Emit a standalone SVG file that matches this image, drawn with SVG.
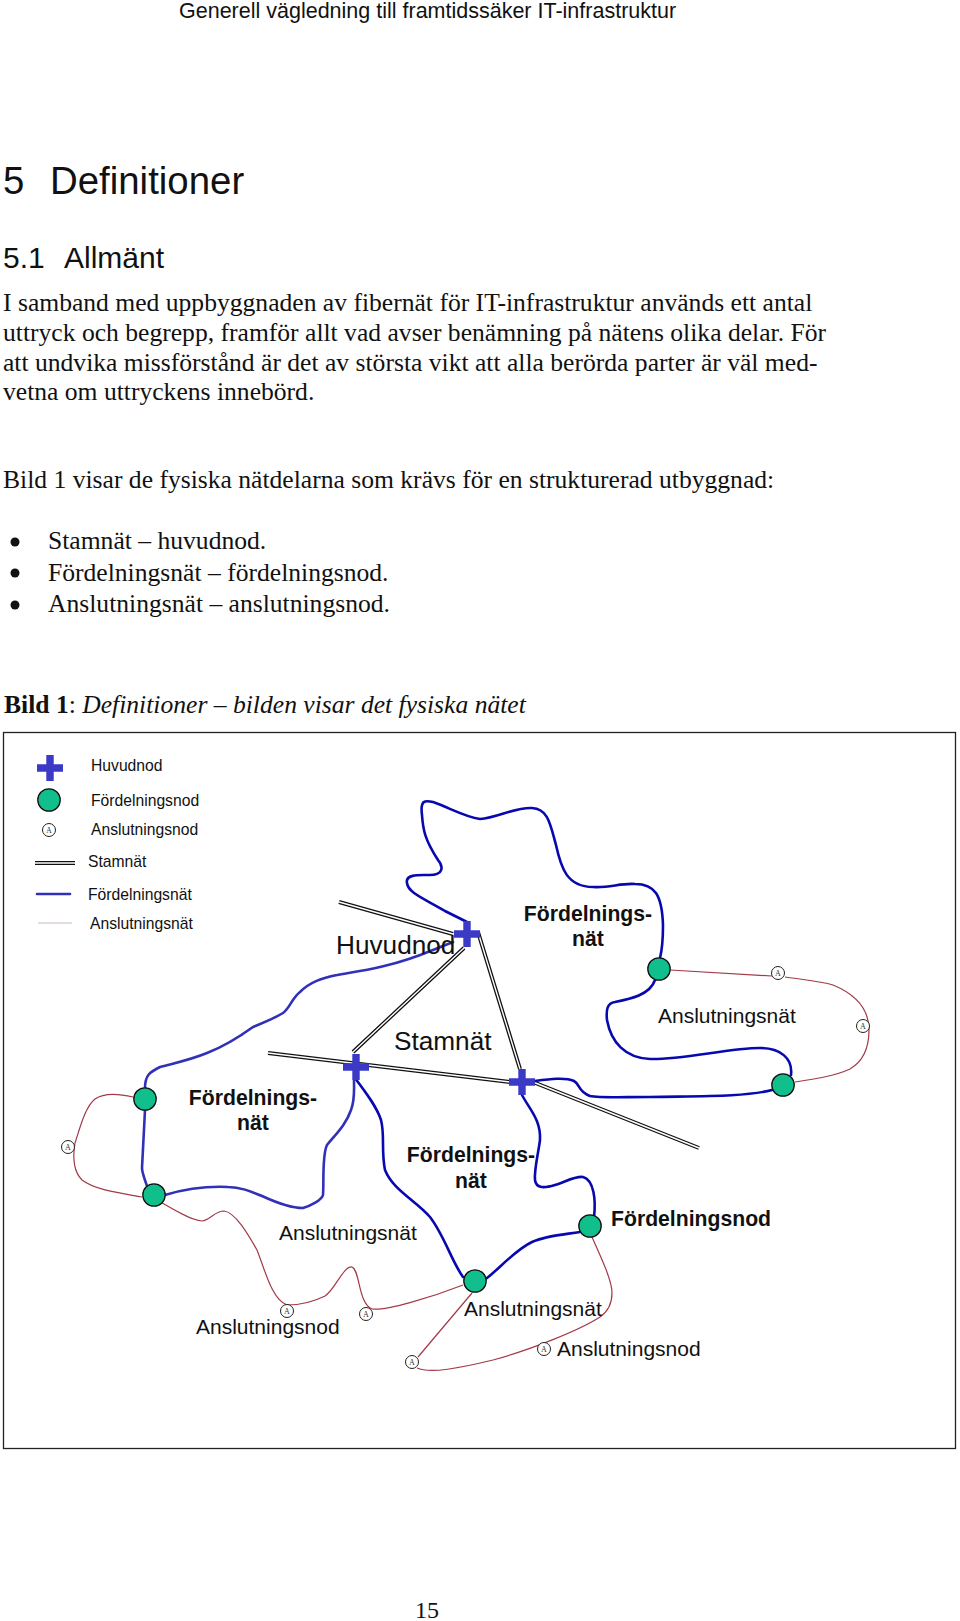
<svg xmlns="http://www.w3.org/2000/svg" width="960" height="1621" viewBox="0 0 960 1621">
<style>
text{fill:#111}
.s{font-family:"Liberation Sans",Arial,sans-serif}
.t{font-family:"Liberation Serif","Times New Roman",serif;font-size:25.6px}
.leg{font-size:15.7px}
.big{font-size:21px}
.b{font-size:21.2px;font-weight:bold}
.c{text-anchor:middle}
.huge{font-size:26.2px}
.blue{fill:none;stroke:#0808b0;stroke-width:2.6;stroke-linecap:round}
.blue2{fill:none;stroke:#3030b8;stroke-width:2.6;stroke-linecap:round}
.red{fill:none;stroke:#a23a48;stroke-width:1.2}
.so{fill:none;stroke:#111;stroke-width:4}
.si{fill:none;stroke:#fff;stroke-width:1.4}
.fn{fill:#10bf8c;stroke:#111;stroke-width:1.3}
.an{fill:#fff;stroke:#222;stroke-width:1}
.at{font-family:"Liberation Serif",serif;font-size:8px;text-anchor:middle;fill:#333}
.hub{fill:#3a3ac6}
</style>
<defs>
<path id="plus" class="hub" d="M-3.7 -13H3.7V-3.7H13V3.7H3.7V13H-3.7V3.7H-13V-3.7H-3.7Z"/>
<circle id="fnode" class="fn" r="11.2"/>
<g id="anode"><circle class="an" r="6.5"/><text class="at" y="2.7">A</text></g>
</defs>
<g id="page-text">
<text class="s" x="179" y="18" font-size="21.5">Generell vägledning till framtidssäker IT-infrastruktur</text>
<text class="s" x="3" y="194" font-size="38.4">5</text>
<text class="s" x="50" y="194" font-size="38.4">Definitioner</text>
<text class="s" x="3" y="268" font-size="30">5.1</text>
<text class="s" x="64" y="268" font-size="30">Allmänt</text>
<text class="t" x="3" y="311">I samband med uppbyggnaden av fibernät för IT-infrastruktur används ett antal</text>
<text class="t" x="3" y="341">uttryck och begrepp, framför allt vad avser benämning på nätens olika delar. För</text>
<text class="t" x="3" y="371">att undvika missförstånd är det av största vikt att alla berörda parter är väl med-</text>
<text class="t" x="3" y="400">vetna om uttryckens innebörd.</text>
<text class="t" x="3" y="488">Bild 1 visar de fysiska nätdelarna som krävs för en strukturerad utbyggnad:</text>
<circle cx="15" cy="542" r="4.5" fill="#111"/>
<circle cx="15" cy="573" r="4.5" fill="#111"/>
<circle cx="15" cy="605" r="4.5" fill="#111"/>
<text class="t" x="48" y="549">Stamnät – huvudnod.</text>
<text class="t" x="48" y="581">Fördelningsnät – fördelningsnod.</text>
<text class="t" x="48" y="612">Anslutningsnät – anslutningsnod.</text>
<text class="t" x="4" y="713"><tspan font-weight="bold">Bild 1</tspan>: <tspan font-style="italic">Definitioner – bilden visar det fysiska nätet</tspan></text>
<text class="t" x="415" y="1618" style="font-size:24px">15</text>
</g>
<rect id="frame" x="3.5" y="732.5" width="952" height="716" fill="none" stroke="#222" stroke-width="1.3"/>
<g id="connectors">
<g id="stamnat">
<path class="so" d="M339 902L453 934M464 948L353 1052M268 1053L510 1082M533 1082L699 1148M478 932L520 1069M35 863H75"/>
<path class="si" d="M339 902L453 934M464 948L353 1052M268 1053L510 1082M533 1082L699 1148M478 932L520 1069M35 863H75"/>
</g>
<g id="fordelningsnat">
<path class="blue2" d="M37 894H70"/>
<path class="blue" d="M467 922L445 911C425 899 408 893 407 883C405 874 420 875 427 875C445 876 443 866 438 860C425 840 423 830 422 815C420 800 425 800 433 802C450 808 465 817 480 819C497 818 515 807 532 808C548 809 550 823 556 845C561 868 567 887 593 887C610 888 620 883 635 884C655 884 662 895 663 925C663 940 662 950 660 958"/>
<path class="blue" d="M655 980C650 995 630 999 615 1002C607 1003 606 1010 607 1020C611 1042 625 1058 650 1059C680 1060 730 1048 760 1048C780 1048 793 1058 791 1075"/>
<path class="blue" d="M772 1090C745 1097 700 1096 650 1097C620 1097 600 1098 590 1096C578 1092 580 1084 574 1081C565 1077 550 1079 535 1081"/>
<path class="blue" d="M522 1095C530 1110 541 1120 540 1140C538 1155 534 1170 535 1180C536 1189 545 1188 555 1185C565 1182 575 1176 583 1177C594 1180 596 1200 594 1217"/>
<path class="blue" d="M580 1232C560 1235 545 1236 532 1242C515 1250 500 1268 487 1278"/>
<path class="blue" d="M463 1277C452 1262 444 1235 430 1217C415 1200 393 1190 385 1170C381 1150 385 1135 381 1120C376 1105 365 1092 355 1078"/>
<path class="blue2" d="M354 1080C354 1090 355 1100 351 1110C346 1125 335 1135 327 1145C322 1155 324 1180 323 1195C322 1200 310 1206 303 1208C290 1208 275 1202 262 1196C250 1191 240 1187 228 1187C205 1186 185 1189 165 1195"/>
<path class="blue2" d="M147 1186C143 1175 142 1172 142 1168L145 1110"/>
<path class="blue2" d="M145 1088C145 1075 150 1072 160 1067C175 1063 190 1060 207 1053C220 1048 235 1040 253 1027C265 1022 275 1018 283 1013C290 1008 292 998 300 992C310 982 322 978 337 975C350 972 385 970 433 950L453 942"/>
</g>
<g id="anslutningsnat">
<path d="M38 923H72" fill="none" stroke="#c9b7ba" stroke-width="1.2"/>
<path class="red" d="M670 970L772 976M785 977C805 980 820 981 833 985C850 992 869 1005 869 1030C869 1050 862 1062 850 1069C835 1076 815 1079 795 1082"/>
<path class="red" d="M133 1097C120 1094 105 1092 95 1099C85 1107 80 1128 75 1143C73 1155 72 1170 82 1180C95 1190 120 1193 142 1197"/>
<path class="red" d="M162 1203C175 1210 190 1220 202 1221C210 1220 215 1211 224 1211C235 1212 248 1234 257 1250C265 1270 272 1300 287 1305C300 1305 315 1301 325 1296C335 1290 343 1266 352 1267C360 1270 358 1303 372 1309C385 1311 430 1298 463 1285"/>
<path class="red" d="M472 1293L418 1357M417 1368C430 1374 460 1368 493 1360C530 1350 580 1330 600 1317C610 1310 612 1300 612 1293C612 1280 600 1255 592 1237"/>
</g>
</g>
<g id="legend">
<use id="legend-huvudnod" href="#plus" x="50" y="768"/>
<use id="legend-fordelningsnod" href="#fnode" x="49" y="800"/>
<use id="legend-anslutningsnod" href="#anode" x="49" y="830"/>
<g class="s leg">
<text x="91" y="771">Huvudnod</text>
<text x="91" y="806">Fördelningsnod</text>
<text x="91" y="835">Anslutningsnod</text>
<text x="88" y="867">Stamnät</text>
<text x="88" y="900">Fördelningsnät</text>
<text x="90" y="929">Anslutningsnät</text>
</g>
</g>
<g id="hub1"><use href="#plus" x="467" y="934"/></g>
<g id="hub2"><use href="#plus" x="356" y="1067"/></g>
<g id="hub3"><use href="#plus" x="522" y="1082"/></g>
<g id="fnode1"><use href="#fnode" x="659" y="969"/></g>
<g id="fnode2"><use href="#fnode" x="783" y="1085"/></g>
<g id="fnode3"><use href="#fnode" x="145" y="1099"/></g>
<g id="fnode4"><use href="#fnode" x="154" y="1195"/></g>
<g id="fnode5"><use href="#fnode" x="590" y="1226"/></g>
<g id="fnode6"><use href="#fnode" x="475" y="1281"/></g>
<g id="anode1"><use href="#anode" x="778" y="973"/></g>
<g id="anode2"><use href="#anode" x="863" y="1026"/></g>
<g id="anode3"><use href="#anode" x="68" y="1147"/></g>
<g id="anode4"><use href="#anode" x="287" y="1311"/></g>
<g id="anode5"><use href="#anode" x="366" y="1314"/></g>
<g id="anode6"><use href="#anode" x="412" y="1362"/></g>
<g id="anode7"><use href="#anode" x="544" y="1349"/></g>
<g id="labels" class="s">
<text class="huge" x="336" y="954">Huvudnod</text>
<text class="huge" x="394" y="1050">Stamnät</text>
<text class="b c" x="588" y="921">Fördelnings-</text>
<text class="b c" x="588" y="946">nät</text>
<text class="b c" x="253" y="1105">Fördelnings-</text>
<text class="b c" x="253" y="1130">nät</text>
<text class="b c" x="471" y="1162">Fördelnings-</text>
<text class="b c" x="471" y="1188">nät</text>
<text class="big" x="658" y="1023">Anslutningsnät</text>
<text class="big" x="279" y="1240">Anslutningsnät</text>
<text class="big" x="464" y="1316">Anslutningsnät</text>
<text class="big" x="196" y="1334">Anslutningsnod</text>
<text class="big" x="557" y="1356">Anslutningsnod</text>
<text class="b" x="611" y="1226">Fördelningsnod</text>
</g>
</svg>
